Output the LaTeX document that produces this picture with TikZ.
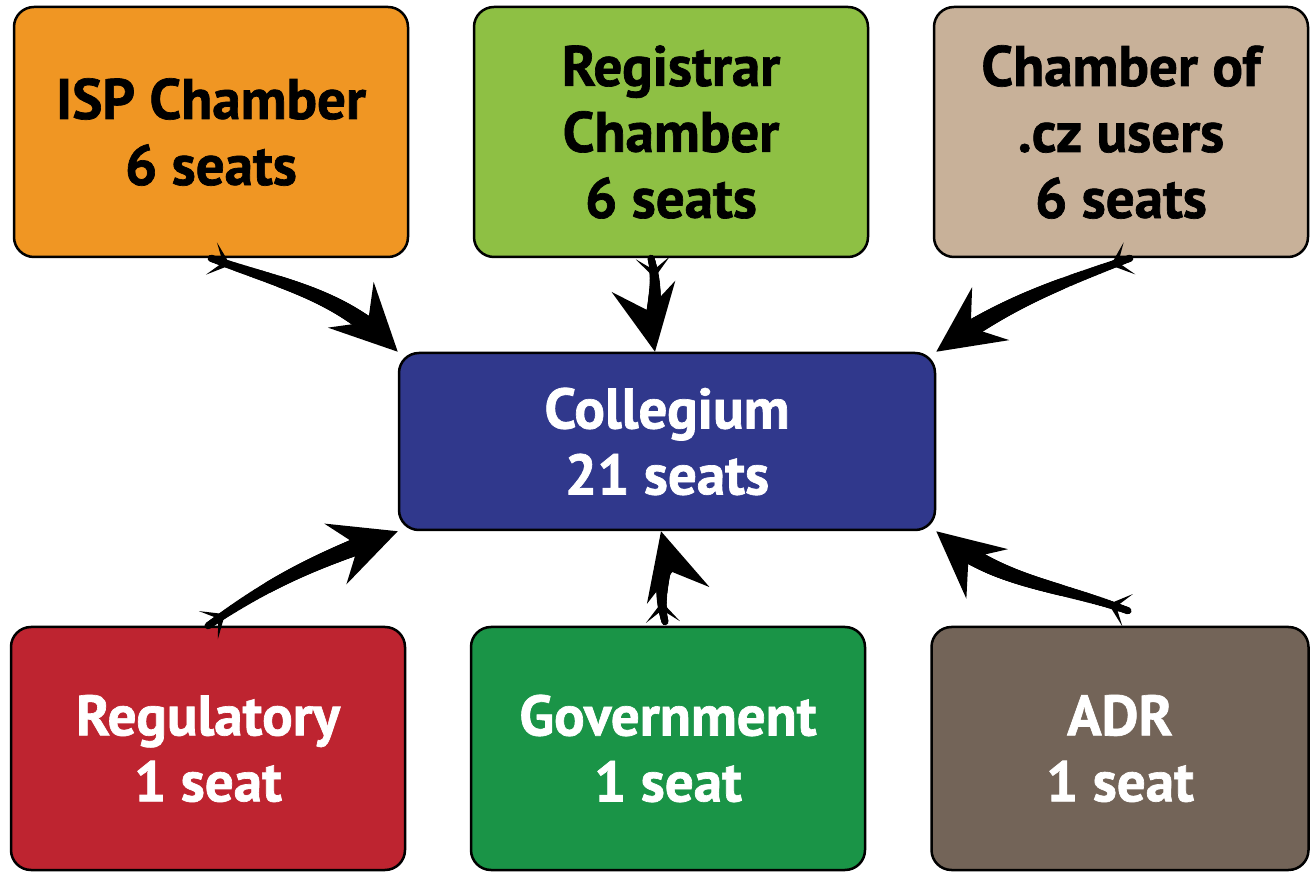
\documentclass[tikz,border=0pt]{standalone}
\usepackage{fontspec}
\setmainfont[BoldFeatures={FakeBold=1.2}]{PT Sans}
\usetikzlibrary{arrows.meta,decorations.markings}
\definecolor{isporange}{RGB}{240,150,35}
\definecolor{reggreen}{RGB}{142,192,68}
\definecolor{usertan}{RGB}{200,177,153}
\definecolor{colblue}{RGB}{48,56,140}
\definecolor{regured}{RGB}{190,36,48}
\definecolor{govgreen}{RGB}{26,148,71}
\definecolor{adrbrown}{RGB}{115,100,88}

\begin{document}
\begin{tikzpicture}[x=1pt,y=1pt]
    \tikzset{%
      box/.style={draw=black, line width=2.5pt, rounded corners=20pt,
        align=center, inner sep=0pt,
        font=\fontsize{57}{66}\selectfont\bfseries},
      topbox/.style={box, minimum width=394pt, minimum height=250pt},
      lowbox/.style={box, minimum width=394pt, minimum height=243pt,
        text=white},
      % tapering arrow: growing dots, fork at the tail, barbed head
      arr/.style={draw=black, line width=7pt,
        -{Stealth[length=66pt,width=64pt,inset=24pt]},
        postaction={decorate}, decoration={markings,
          mark=between positions 0 and -40pt step 1.5pt with {
            \pgfmathsetmacro\rad{3.5+6.5*\pgfkeysvalueof{/pgf/decoration/mark info/distance from start}/\pgfdecoratedpathlength}
            \fill (0,0) circle (\rad pt);},
          mark=at position 20pt with {\arrow{Stealth[length=20pt,width=34pt,inset=12pt]}}}},
    }
    \useasboundingbox (0,0) rectangle (1311,873);
    % chambers
    \node[topbox, fill=isporange] (isp) at (211,741) {ISP Chamber\\6 seats};
    \node[topbox, fill=reggreen] (reg) at (671,741) {Registrar\\Chamber\\6 seats};
    \node[topbox, fill=usertan, minimum width=374pt] (cz) at (1121,741) {Chamber of\\.cz users\\6 seats};
    % collegium
    \node[box, fill=colblue, text=white, minimum width=536pt,
      minimum height=177pt] (col) at (667,431.5) {Collegium\\21 seats};
    % single seats
    \node[lowbox, fill=regured] (regu) at (208,124.5) {Regulatory\\1 seat};
    \node[lowbox, fill=govgreen] (gov) at (668,124.5) {Government\\1 seat};
    \node[lowbox, fill=adrbrown, minimum width=377pt] (adr) at (1120,124.5) {ADR\\1 seat};

    \draw [arr] (isp.south) to[out=-20,in=135] (col.north west);
    \draw [arr] ([xshift=-20pt]reg.south) to[out=-75,in=100] ([xshift=-12pt]col.north);
    \draw [arr] ([xshift=9pt]cz.south) to[out=200,in=35] (col.north east);

    \draw [arr] (regu.north) to[out=35,in=200] (col.south west);
    \draw [arr] ([xshift=-3pt,yshift=4pt]gov.north) to[out=105,in=-75] ([xshift=-6pt]col.south);
    \draw [arr] ([xshift=8pt,yshift=15pt]adr.north) to[out=160,in=-40] (col.south east);
\end{tikzpicture}
\end{document}
